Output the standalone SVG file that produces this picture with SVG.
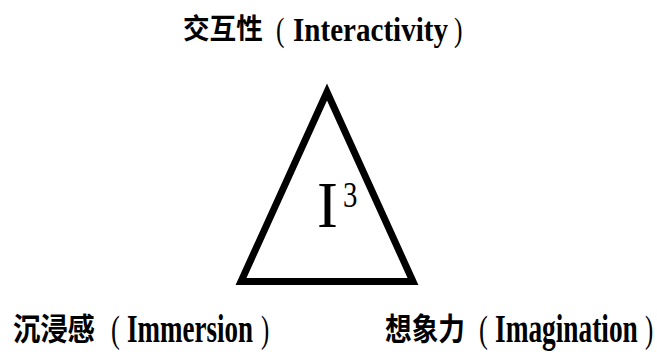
<svg xmlns="http://www.w3.org/2000/svg" width="657" height="358" viewBox="0 0 657 358">
<style>
.cjk{font-family:"Noto Sans CJK SC","Noto Sans CJK JP",sans-serif;font-weight:bold;fill:#000}
.lat{font-family:"Liberation Serif","Times New Roman",serif;fill:#000}
.b{font-weight:bold}
</style>
<rect width="657" height="358" fill="#fff"/>
<g id="connectors"></g>
<g id="core">
<polygon points="327,92 241,281.5 413,281.5" fill="#fff" stroke="#000" stroke-width="7" stroke-linejoin="miter"/>
<text class="lat" transform="translate(317,227) scale(0.95,1)" font-size="66">I</text>
<text class="lat" transform="translate(343,207) scale(0.8,1)" font-size="36">3</text>
</g>
<g id="interactivity">
<text class="cjk" transform="translate(183,39) scale(0.95,1)" font-size="28">交互性</text>
<text class="lat" transform="translate(276,41) scale(0.75,1)" font-size="34">(</text>
<text class="lat b" transform="translate(293,41) scale(0.855,1)" font-size="34">Interactivity</text>
<text class="lat" transform="translate(454,41) scale(0.75,1)" font-size="34">)</text>
</g>
<g id="immersion">
<text class="cjk" transform="translate(13,340) scale(0.88,1)" font-size="31">沉浸感</text>
<text class="lat" transform="translate(111,342) scale(0.7,1)" font-size="38">(</text>
<text class="lat b" transform="translate(127,342) scale(0.675,1)" font-size="40">Immersion</text>
<text class="lat" transform="translate(261,342) scale(0.65,1)" font-size="38">)</text>
</g>
<g id="imagination">
<text class="cjk" transform="translate(385,340) scale(0.86,1)" font-size="31">想象力</text>
<text class="lat" transform="translate(479,342) scale(0.7,1)" font-size="38">(</text>
<text class="lat b" transform="translate(495,342) scale(0.684,1)" font-size="40">Imagination</text>
<text class="lat" transform="translate(645,342) scale(0.65,1)" font-size="38">)</text>
</g>
</svg>
